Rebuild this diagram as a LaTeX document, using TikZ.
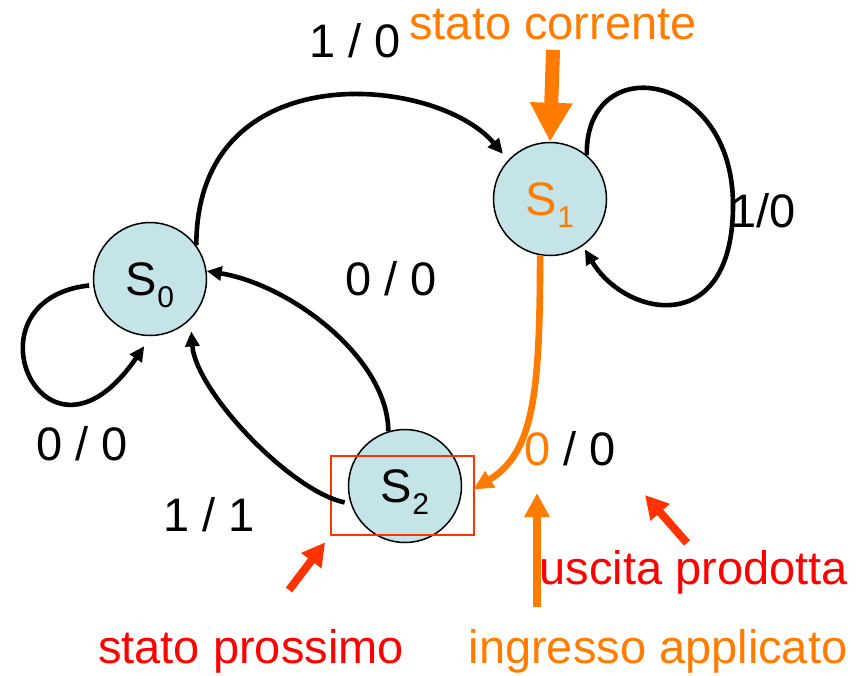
\documentclass[tikz,border=0pt]{standalone}
\usepackage{fontspec}
\setmainfont{Liberation Sans}
\usepackage{tikz}
\usetikzlibrary{arrows.meta}
\definecolor{statefill}{RGB}{196,228,232}
\definecolor{hlorange}{RGB}{255,124,0}
\definecolor{hlred}{RGB}{255,0,0}
\definecolor{markred}{RGB}{255,51,0}
\tikzset{state/.style={circle, draw=black, line width=.75pt, fill=statefill,
  minimum size=56.5pt, inner sep=0pt, text depth=0pt}}
\tikzset{lbl/.style={anchor=base, inner sep=0pt}}
\tikzset{trans/.style={line width=2.3pt, -{Triangle[length=7.5pt,width=7pt]}}}
\tikzset{curtrans/.style={line width=3.3pt, draw=hlorange, -{Triangle[length=10pt,width=9pt]}}}
\tikzset{bigarrow/.style={line width=7pt, draw=hlorange, -{Triangle[length=19.5pt,width=20pt]}}}
\tikzset{inarrow/.style={line width=4pt, draw=hlorange, -{Triangle[length=12pt,width=12pt]}}}
\tikzset{markarrow/.style={line width=4pt, draw=markred, -{Triangle[length=11.5pt,width=12pt]}}}
\tikzset{markbox/.style={draw=markred, line width=1pt, minimum width=71.5pt,
  minimum height=39.5pt, inner sep=0pt}}
\newcommand{\stname}[1]{S\raisebox{-6pt}{\fontsize{15}{15}\selectfont #1}}

\begin{document}
\begin{tikzpicture}[x=.5pt, y=-.5pt, every node/.style={font=\fontsize{23.5}{28}\selectfont}]
\useasboundingbox (0,0) rectangle (865,675);

\node[state] (S0) at (150,279) {\stname{0}};
\node[state, text=hlorange] (S1) at (550,199) {\stname{1}};
\node[state] (S2) at (405,486) {\stname{2}};
\node[markbox] (box) at (402.5,495.5) {};

\node[lbl] (l10) at (355,57) {1 / 0};
\node[lbl] (l10loop) at (763,227) {1/0};
\node[lbl] (l00mid) at (391,295) {0 / 0};
\node[lbl] (l00loop) at (82,460) {0 / 0};
\node[lbl] (l11) at (209,531) {1 / 1};
\node[lbl] (l00cur) at (570,465) {\textcolor{hlorange}{0} / 0};

\node[lbl, text=hlorange] (corrente) at (553,39) {stato corrente};
\node[lbl, text=hlred] (uscita) at (694,584) {uscita prodotta};
\node[lbl, text=hlred] (prossimo) at (251,663) {stato prossimo};
\node[lbl, text=hlorange] (ingresso) at (658,663) {ingresso applicato};

% transitions
\draw[trans, shorten <=2pt, shorten >=6pt] (S0.186) .. controls +(-134,15) and +(-106,155) .. (S0.271);
\draw[trans, shorten >=4pt] (S0.36) .. controls +(0,-193) and +(-72,-85) .. (S1.137);
\coordinate (loopR) at (733,205);
\draw[trans, shorten >=2pt] (S1.50) .. controls +(-2,-106) and +(0,-135) .. (loopR)
  .. controls +(0,135) and +(42,71) .. (S1.305);
\draw[trans] (S2.107) .. controls +(0,-72) and +(85,14) .. (S0.8);
\draw[trans, shorten <=3pt, shorten >=6pt] (S2.198) .. controls +(-61,-13) and +(5,71) .. (S0.-45);
\draw[curtrans, shorten >=7pt] (S1.260) .. controls +(0,140) and +(72,-44) .. (S2.-11);

% annotations
\draw[bigarrow] ([yshift=-5pt]corrente.south) -- (S1.north);
\coordinate (iTail) at (537,607);
\coordinate (iTip) at (537,493);
\draw[inarrow] (iTail) -- (iTip);
\coordinate (pTail) at (289,590);
\draw[markarrow, shorten >=4pt] (pTail) -- (box.south west);
\coordinate (uTail) at (687,543);
\coordinate (uTip) at (645,495);
\draw[markarrow] (uTail) -- (uTip);

\end{tikzpicture}
\end{document}
